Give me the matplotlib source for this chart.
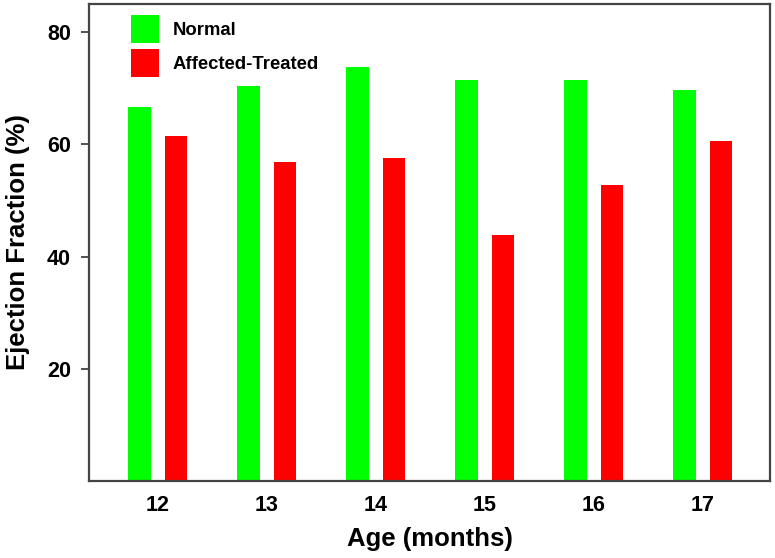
import matplotlib.pyplot as plt
import numpy as np

plt.rcParams['font.family'] = ['Liberation Sans', 'DejaVu Sans']
plt.rcParams['font.weight'] = 'bold'

# data
ages = ['12', '13', '14', '15', '16', '17']
normal = [66.6, 70.4, 73.8, 71.4, 71.4, 69.7]
affected_treated = [61.5, 56.9, 57.5, 43.8, 52.8, 60.6]

x = np.arange(len(ages))
w = 0.205
off = 0.168

fig = plt.figure(figsize=(7.75, 5.58), dpi=100)
ax = fig.add_axes([89 / 775, 77 / 558, 681 / 775, 477 / 558])

ax.bar(x - off, normal, width=w, color='#00ff00', label='Normal')
ax.bar(x + off, affected_treated, width=w, color='#ff0000', label='Affected-Treated')

ax.set_xlim(-0.631, 5.615)
ax.set_ylim(0, 85)
ax.set_xticks(x)
ax.set_xticklabels(ages)
ax.set_yticks([20, 40, 60, 80])

ax.tick_params(axis='x', length=0, pad=10, labelsize=15.5)
ax.tick_params(axis='y', length=6, width=1.2, pad=7, labelsize=15.5, color='#333333')

for s in ax.spines.values():
    s.set_color('#444444')
    s.set_linewidth(1.6)

ax.set_xlabel('Age (months)', fontsize=18.5, fontweight='bold', labelpad=8)
ax.set_ylabel('Ejection Fraction (%)', fontsize=18.5, fontweight='bold', labelpad=12)

ax.legend(loc='upper left', bbox_to_anchor=(0.0617, 0.977), frameon=False,
          borderpad=0, borderaxespad=0, handlelength=1.5, handleheight=1.96,
          handletextpad=0.74, labelspacing=0.32, prop={'size': 13.3, 'weight': 'bold'})

plt.savefig('out.png', dpi=100)
